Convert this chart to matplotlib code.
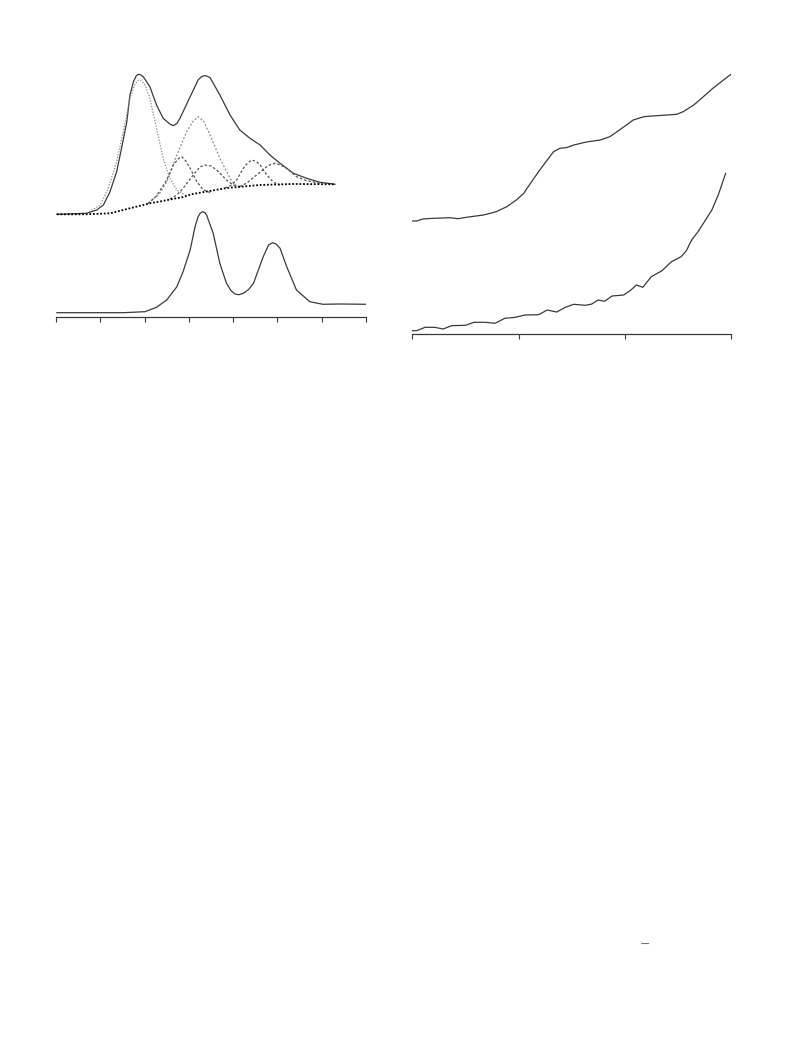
import matplotlib
matplotlib.use('Agg')
import matplotlib.pyplot as plt

# ---- left panel: fitted spectrum (top) and reference spectrum (bottom) ----
fit_x = [0.02, 0.69, 0.92, 1.07, 1.22, 1.37, 1.48, 1.60, 1.67, 1.75, 1.81, 1.86, 1.92, 1.97,
         2.12, 2.27, 2.42, 2.57, 2.65, 2.73, 2.80, 3.03, 3.21, 3.29, 3.36, 3.42, 3.48, 3.70,
         3.93, 4.15, 4.38, 4.61, 4.83, 5.06, 5.36, 5.66, 5.96, 6.30]
fit_y = [103.7, 104.7, 108, 113, 126.3, 146.3, 169.7, 196.3, 223, 236.3, 242, 243.7, 243, 241.3,
         231.3, 213, 199.7, 194, 192.3, 194.5, 199.7, 221.3, 238, 241.5, 242.3, 241.7, 240.3, 223,
         203, 188, 179.7, 173, 163, 154.7, 144.7, 139.7, 135.7, 133.7]

bg_x = [0.02, 0.69, 1.22, 1.67, 2.12, 2.35, 2.87, 3.09, 3.86, 4.61, 5.35, 6.30]
bg_y = [103.7, 103.7, 104.7, 109.7, 114.7, 116.5, 121, 124, 130, 133, 134, 133.7]

p1_x = [0.69, 1.00, 1.18, 1.37, 1.52, 1.67, 1.78, 1.83, 1.88, 1.95, 2.01, 2.12, 2.27, 2.42,
        2.57, 2.73, 2.95]
p1_y = [104.7, 113, 129.7, 156.3, 186.3, 219.7, 233, 237, 238, 236.5, 233, 219.7, 189.7, 159.7,
        139.7, 128, 122]

p2_x = [2.08, 2.35, 2.50, 2.73, 2.95, 3.10, 3.21, 3.33, 3.48, 3.70, 3.93, 4.09]
p2_y = [114.5, 125, 136.3, 163, 186.3, 197, 201.3, 197, 183, 159.7, 139.7, 131]

p3_x = [2.08, 2.27, 2.50, 2.65, 2.76, 2.84, 2.93, 3.03, 3.18, 3.33, 3.48]
p3_y = [114.5, 122, 138, 153, 159, 161.3, 157, 149.7, 136.3, 128, 125.5]

p4_x = [2.57, 2.73, 2.87, 3.10, 3.25, 3.36, 3.50, 3.63, 3.85, 4.00, 4.15]
p4_y = [119, 123, 129.7, 143, 151, 153, 152, 148, 138, 133, 131.5]

p5_x = [3.82, 3.97, 4.08, 4.23, 4.33, 4.42, 4.52, 4.61, 4.76, 4.91, 5.06]
p5_y = [130, 133, 138, 149.7, 155, 158, 156.5, 153, 143, 135.7, 133]

p6_x = [4.15, 4.30, 4.53, 4.76, 4.85, 4.94, 5.07, 5.21, 5.43, 5.66, 5.96]
p6_y = [131.5, 134.7, 143, 151.3, 153.5, 154.7, 153, 149.7, 141.3, 137.3, 134.7]

ref_x = [0.02, 1.52, 2.01, 2.27, 2.50, 2.73, 2.87, 3.03, 3.14, 3.21, 3.26, 3.31, 3.36, 3.40,
         3.55, 3.70, 3.85, 3.95, 4.04, 4.13, 4.23, 4.35, 4.46, 4.68, 4.80, 4.89, 4.97, 5.06,
         5.21, 5.43, 5.73, 6.03, 6.41, 7.00]
ref_y = [5.3, 5.3, 6.3, 10.7, 18, 31.3, 46.3, 68, 91.3, 101.3, 105, 106.3, 105.5, 103,
         84.7, 54.7, 34.7, 27.5, 24, 23.3, 24.7, 28.5, 34.7, 61.3, 73, 75.3, 74, 69.7,
         51.3, 28, 16.3, 13.7, 14, 13.7]

left_ticks = [0, 1, 2, 3, 4, 5, 6, 7]

# ---- right panel: two rising curves ----
up_x = [0.0, 0.04, 0.10, 0.20, 0.29, 0.35, 0.43, 0.51, 0.67, 0.79, 0.89, 0.98, 1.05,
        1.08, 1.20, 1.33, 1.39, 1.45, 1.52, 1.64, 1.77, 1.86, 1.96, 2.08, 2.18, 2.30,
        2.40, 2.49, 2.55, 2.65, 2.74, 2.83, 2.93, 3.00]
up_y = [113, 113, 115, 115.7, 116, 116.3, 115.3, 116.7, 119, 122.3, 127.3, 134, 140.7,
        145.7, 164, 182.3, 185.7, 186.3, 189, 192, 194, 197.3, 204.7, 214, 217.3, 218.3,
        219, 219.7, 222.3, 229, 237.3, 245.7, 254, 259.7]

low_x = [0.0, 0.04, 0.12, 0.21, 0.29, 0.37, 0.50, 0.58, 0.69, 0.78, 0.87, 0.97, 1.06,
         1.19, 1.27, 1.36, 1.44, 1.52, 1.63, 1.69, 1.75, 1.81, 1.88, 1.99, 2.05, 2.11,
         2.17, 2.25, 2.35, 2.44, 2.53, 2.58, 2.63, 2.69, 2.82, 2.88, 2.95]
low_y = [3.3, 3.3, 6.7, 6.7, 5, 8.3, 8.7, 11.7, 11.7, 10.7, 15.7, 16.7, 19,
         19.3, 24, 22, 26.7, 29.7, 28.7, 30, 34, 32.7, 38, 39, 43.3, 49,
         46.7, 57.3, 63.3, 72.3, 77.3, 83.3, 94, 102.3, 124, 139, 160.7]

right_ticks = [0, 1, 2, 3]

LINE = '#3a3a3a'


def style_axis(ax, ticks):
    for side in ('left', 'right', 'top'):
        ax.spines[side].set_visible(False)
    ax.spines['bottom'].set_color(LINE)
    ax.spines['bottom'].set_linewidth(0.9)
    ax.set_xticks(ticks)
    ax.set_xticklabels([])
    ax.set_yticks([])
    ax.tick_params(axis='x', direction='out', length=3.6, width=0.8, color=LINE)
    ax.patch.set_alpha(0)


fig = plt.figure(figsize=(7.93, 10.57), dpi=100)

ax = fig.add_axes([0.0706, 0.7001, 0.3909, 0.2441])
ax.plot(ref_x, ref_y, color=LINE, lw=0.9)
ax.plot(fit_x, fit_y, color=LINE, lw=0.9)
ax.plot(p1_x, p1_y, color='#8a8a8a', lw=0.9, ls=(0, (1, 1.3)))
ax.plot(p2_x, p2_y, color='#8a8a8a', lw=0.9, ls=(0, (1.5, 1.5)))
for px, py in [(p3_x, p3_y), (p4_x, p4_y), (p5_x, p5_y), (p6_x, p6_y)]:
    ax.plot(px, py, color='#555555', lw=0.9, ls=(0, (2, 1.6)))
ax.plot(bg_x, bg_y, color='black', lw=1.3, ls=(0, (1, 1)))
ax.set_xlim(0, 7)
ax.set_ylim(1, 259)
style_axis(ax, left_ticks)

ax2 = fig.add_axes([0.5199, 0.6840, 0.4019, 0.2498])
ax2.plot(up_x, up_y, color=LINE, lw=0.9)
ax2.plot(low_x, low_y, color=LINE, lw=0.9)
ax2.set_xlim(0, 3)
ax2.set_ylim(0, 264)
style_axis(ax2, right_ticks)

fig.text(0.8134, 0.1069, '\u2212', color='#777777', fontsize=9, ha='center', va='center')

fig.savefig('out.png', dpi=100)
